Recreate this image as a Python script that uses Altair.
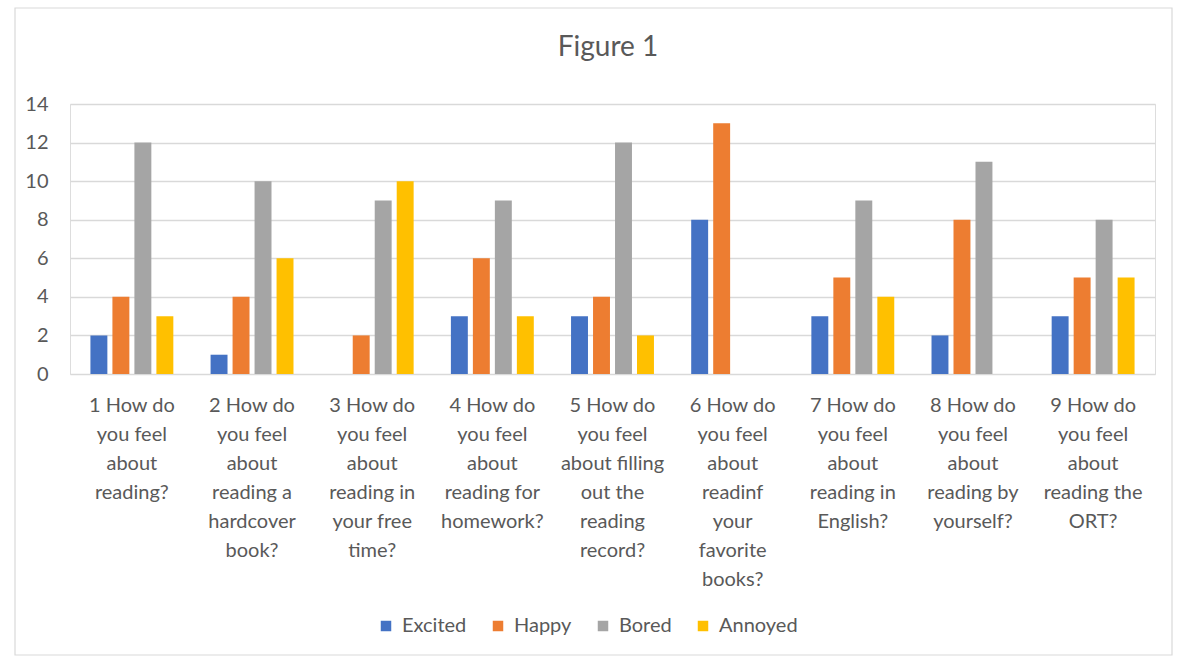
import altair as alt
import pandas as pd

title_text = "Figure 1"
questions = [
    "1 How do\nyou feel\nabout\nreading?",
    "2 How do\nyou feel\nabout\nreading a\nhardcover\nbook?",
    "3 How do\nyou feel\nabout\nreading in\nyour free\ntime?",
    "4 How do\nyou feel\nabout\nreading for\nhomework?",
    "5 How do\nyou feel\nabout filling\nout the\nreading\nrecord?",
    "6 How do\nyou feel\nabout\nreadinf\nyour\nfavorite\nbooks?",
    "7 How do\nyou feel\nabout\nreading in\nEnglish?",
    "8 How do\nyou feel\nabout\nreading by\nyourself?",
    "9 How do\nyou feel\nabout\nreading the\nORT?",
]
feelings = ["Excited", "Happy", "Bored", "Annoyed"]
excited = [2, 1, 0, 3, 3, 8, 3, 2, 3]
happy = [4, 4, 2, 6, 4, 13, 5, 8, 5]
bored = [12, 10, 9, 9, 12, 0, 9, 11, 8]
annoyed = [3, 6, 10, 3, 2, 0, 4, 0, 5]
colors = ["#4472C4", "#ED7D31", "#A5A5A5", "#FFC000"]
y_ticks = [0, 2, 4, 6, 8, 10, 12, 14]

rows = []
for name, vals in zip(feelings, [excited, happy, bored, annoyed]):
    for q, v in zip(questions, vals):
        rows.append({"Question": q, "Feeling": name, "Count": v})
df = pd.DataFrame(rows)

FONT = "Lato"
TXT = "#595959"

bars = alt.Chart(df).mark_bar().encode(
    x=alt.X("Question:N", sort=questions, title=None,
            scale=alt.Scale(paddingInner=0.31, paddingOuter=0.17),
            axis=alt.Axis(labelExpr="split(datum.label, '\\n')", labelAngle=0,
                          labelBaseline="top", labelLineHeight=29, labelPadding=21,
                          labelFontSize=20, labelColor=TXT, labelFont=FONT,
                          ticks=False, domain=False, grid=False, labelLimit=200)),
    xOffset=alt.XOffset("Feeling:N", sort=feelings,
                        scale=alt.Scale(paddingInner=0.23, paddingOuter=0)),
    y=alt.Y("Count:Q", title=None,
            scale=alt.Scale(domain=[0, 14]),
            axis=alt.Axis(values=y_ticks, ticks=False, domain=False,
                          gridColor="#D9D9D9", gridWidth=1.3,
                          labelFontSize=20, labelColor=TXT, labelFont=FONT,
                          labelPadding=22)),
    color=alt.Color("Feeling:N", sort=feelings,
                    scale=alt.Scale(domain=feelings, range=colors),
                    legend=alt.Legend(orient="none", direction="horizontal",
                                      legendX=306, legendY=512, title=None,
                                      symbolType="square", symbolSize=110,
                                      symbolStrokeWidth=0, labelFontSize=20,
                                      labelColor=TXT, labelFont=FONT,
                                      columnPadding=21, labelOffset=6)),
)

border = alt.Chart(pd.DataFrame({"a": [0]})).mark_rect(
    fill=None, stroke="#D9D9D9", strokeWidth=1.2
).encode(x=alt.value(-55), x2=alt.value(1102), y=alt.value(-96), y2=alt.value(551))

title = alt.Chart(pd.DataFrame({"t": [title_text]})).mark_text(
    font=FONT, fontSize=28, color=TXT, align="center", baseline="middle"
).encode(text="t:N", x=alt.value(538), y=alt.value(-56))

chart = alt.layer(border, title, bars).properties(
    width=1085, height=270,
    autosize=alt.AutoSizeParams(type="none"),
    padding={"left": 70, "top": 104, "right": 25, "bottom": 289},
).configure_view(stroke=None).configure(background="white")

chart.save("out.html", embed_options={"renderer": "svg", "actions": False})
